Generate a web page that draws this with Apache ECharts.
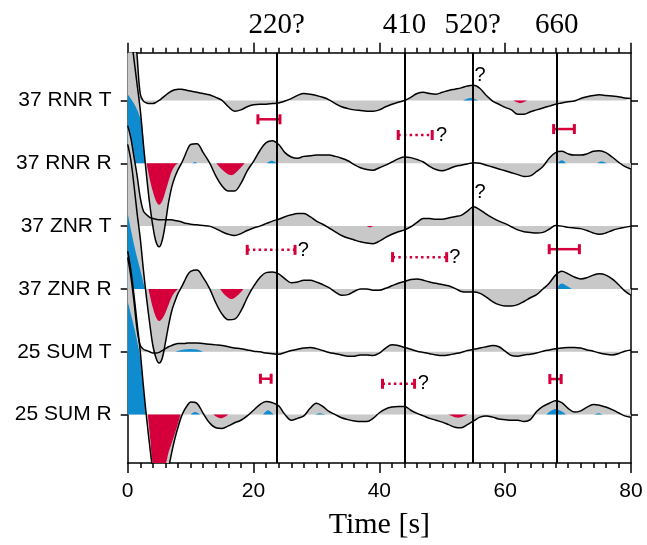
<!DOCTYPE html>
<html><head><meta charset="utf-8">
<script src="https://cdn.jsdelivr.net/npm/echarts@6/dist/echarts.min.js"></script>
<style>html,body{margin:0;padding:0;background:#fff}#c{width:647px;height:545px}</style>
</head><body><div id="c"></div>
<script>
const traceNames = ['37 RNR T','37 RNR R','37 ZNR T','37 ZNR R','25 SUM T','25 SUM R'];
const offsets = [5,4,3,2,1,0];
const times = [0,0.5,1,1.5,2,2.5,3,3.5,4,4.5,5,5.5,6,6.5,7,7.5,8,8.5,9,9.5,10,
 11,12,13,14,15,16,17,18,19,20,21,22,23,24,25,26,27,28,29,30,31,32,33,34,35,36,37,38,39,40,
 41,42,43,44,45,46,47,48,49,50,51,52,53,54,55,56,57,58,59,60,61,62,63,64,65,66,67,68,69,70,
 71,72,73,74,75,76,77,78,79,80];
const ampRNR_T = [2.2,1.9,1.35,0.7,0.1,-0.01,-0.04,-0.05,-0.05,-0.03,0,0.04,0.08,0.12,0.15,0.17,0.18,0.18,0.17,0.16,0.15,
 0.13,0.11,0.09,0.05,0.0,-0.1,-0.17,-0.15,-0.1,-0.07,
 -0.06,-0.06,-0.05,-0.04,-0.01,0.03,0.08,0.11,0.1,0.08,
 0.05,0.01,-0.05,-0.1,-0.13,-0.15,-0.16,-0.17,-0.17,-0.15,
 -0.1,-0.06,-0.03,0.0,0.05,0.11,0.13,0.11,0.1,0.13,
 0.16,0.18,0.2,0.23,0.24,0.19,0.08,-0.01,-0.06,-0.11,
 -0.15,-0.22,-0.22,-0.18,-0.15,-0.12,-0.09,-0.06,-0.04,-0.02,
 -0.01,0.03,0.06,0.08,0.09,0.08,0.07,0.06,0.04,0.03];
const ampRNR_R = [2.3,2.05,1.65,1.25,0.85,0.3,-0.2,-0.65,-1.0,-1.25,-1.33,-1.22,-0.95,-0.62,-0.38,-0.22,-0.1,-0.01,0.1,0.22,0.3,
 0.31,0.17,0.01,-0.2,-0.36,-0.44,-0.44,-0.32,-0.12,0.03,
 0.2,0.33,0.36,0.3,0.17,0.1,0.08,0.11,0.12,0.13,
 0.13,0.13,0.11,0.08,0.04,-0.02,-0.07,-0.1,-0.11,-0.07,
 -0.03,0.02,0.07,0.1,0.09,0.06,0.02,-0.05,-0.1,-0.12,
 -0.09,-0.05,-0.03,-0.01,0.01,0.0,-0.03,-0.06,-0.09,-0.12,
 -0.15,-0.18,-0.21,-0.2,-0.13,-0.05,0.08,0.17,0.19,0.15,
 0.13,0.13,0.15,0.19,0.2,0.17,0.1,0.02,-0.05,-0.09];
const ampZNR_T = [1.6,1.4,1.1,0.8,0.45,0.24,0.18,0.14,0.12,0.11,0.1,0.1,0.1,0.1,0.1,0.09,0.08,0.07,0.05,0.04,0.03,
 0.02,0.01,0.0,-0.04,-0.09,-0.13,-0.15,-0.12,-0.07,-0.03,
 0.0,0.04,0.08,0.11,0.15,0.18,0.2,0.2,0.15,0.08,
 0.03,-0.03,-0.09,-0.15,-0.19,-0.22,-0.25,-0.27,-0.28,-0.24,
 -0.18,-0.13,-0.09,-0.06,-0.01,0.06,0.12,0.12,0.11,0.11,
 0.13,0.15,0.17,0.24,0.31,0.26,0.19,0.13,0.08,0.04,
 -0.01,-0.06,-0.09,-0.1,-0.11,-0.1,-0.05,0.01,0.0,-0.02,
 -0.03,-0.04,-0.07,-0.11,-0.13,-0.11,-0.07,-0.04,-0.02,0.0];
const ampZNR_R = [2.3,2.05,1.65,1.2,0.8,0.3,-0.15,-0.55,-0.9,-1.1,-1.18,-1.1,-0.85,-0.58,-0.35,-0.2,-0.07,0.02,0.12,0.22,0.28,
 0.3,0.18,0.01,-0.22,-0.4,-0.49,-0.48,-0.35,-0.14,0.04,
 0.18,0.26,0.27,0.24,0.16,0.1,0.11,0.14,0.14,0.11,
 0.07,0.02,-0.05,-0.1,-0.09,-0.04,0.0,0.0,-0.02,-0.02,
 0.01,0.05,0.09,0.12,0.15,0.16,0.14,0.11,0.09,0.07,
 0.05,0.01,-0.04,-0.05,-0.05,-0.07,-0.13,-0.2,-0.25,-0.27,
 -0.27,-0.25,-0.2,-0.14,-0.09,0.0,0.09,0.22,0.28,0.24,
 0.19,0.16,0.18,0.22,0.24,0.22,0.16,0.07,-0.03,-0.1];
const ampSUM_T = [1.5,1.2,0.8,0.35,0.1,0.04,0.02,0.0,-0.02,-0.02,-0.01,0.02,0.05,0.08,0.1,0.12,0.13,0.13,0.13,0.14,0.14,
 0.14,0.13,0.12,0.11,0.1,0.08,0.06,0.05,0.03,0.01,
 0.0,-0.02,-0.03,-0.04,-0.01,0.02,0.04,0.06,0.07,0.05,
 0.02,-0.01,-0.03,-0.05,-0.07,-0.07,-0.05,-0.05,-0.06,-0.02,
 0.06,0.11,0.1,0.07,0.04,0.01,-0.01,-0.03,-0.05,-0.06,
 -0.05,-0.03,-0.01,0.02,0.04,0.06,0.08,0.1,0.08,0.01,
 -0.06,-0.07,-0.05,-0.04,-0.02,0.01,0.03,0.05,0.06,0.07,
 0.07,0.06,0.03,0.01,-0.02,-0.04,-0.05,-0.03,0.01,0.03];
const ampSUM_R = [2.6,2.3,1.9,1.45,1.0,0.45,-0.05,-0.5,-0.9,-1.2,-1.35,-1.3,-1.1,-0.85,-0.6,-0.38,-0.2,-0.04,0.07,0.15,0.2,
 0.18,0.02,-0.13,-0.21,-0.22,-0.18,-0.13,-0.09,-0.02,0.07,
 0.16,0.21,0.19,0.14,0.0,-0.09,-0.06,-0.02,0.1,0.18,
 0.13,0.05,0.0,-0.05,-0.08,-0.1,-0.11,-0.11,-0.06,0.03,
 0.09,0.12,0.13,0.13,0.07,0.02,-0.02,-0.06,-0.09,-0.12,
 -0.16,-0.2,-0.21,-0.16,-0.1,-0.04,-0.02,-0.04,-0.07,-0.08,
 -0.09,-0.09,-0.11,-0.08,0.05,0.13,0.18,0.22,0.19,0.1,
 0.04,0.06,0.12,0.16,0.15,0.12,0.08,0.03,-0.02,-0.04];
const traces = [ampRNR_T, ampRNR_R, ampZNR_T, ampZNR_R, ampSUM_T, ampSUM_R];

// significant (coloured) parts of each trace: [traceIndex, [[t, amp], ...]]
const bluePatches = [
 [0, [[53.3,0],[54.5,0.04],[55.7,0]]],
 [1, [[0,1.1],[1,0.95],[2,0.72],[2.4,0.5],[2.6,0.22],[2.75,0]]],
 [1, [[10.3,0],[10.7,0.02],[11,0]]],
 [1, [[22.1,0],[22.9,0.04],[23.7,0]]],
 [1, [[68.3,0],[69,0.05],[69.7,0]]],
 [1, [[74.6,0],[75.3,0.03],[76.2,0]]],
 [3, [[0,1.2],[0.6,0.9],[1.2,0.62],[2,0.3],[2.5,0.1],[2.8,0]]],
 [3, [[68.1,0],[69,0.085],[69.6,0.06],[70.6,0]]],
 [4, [[7.5,0],[9,0.035],[10,0.045],[11,0.035],[12,0]]],
 [5, [[0,1.8],[1,1.4],[2,0.9],[2.6,0.3],[2.9,0]]],
 [5, [[10,0],[10.7,0.04],[11.5,0]]],
 [5, [[21.5,0],[22.3,0.07],[23.2,0]]],
 [5, [[29.8,0],[30.5,0.02],[31.4,0]]],
 [5, [[66.5,0],[68,0.09],[69.7,0]]],
 [5, [[74.2,0],[74.8,0.02],[75.5,0]]]
];
const redPatches = [
 [0, [[61.3,0],[62.4,-0.04],[63.5,0]]],
 [1, [[3,0],[3.5,-0.25],[4,-0.45],[4.5,-0.6],[5,-0.66],[5.5,-0.6],[6,-0.45],[6.5,-0.28],[7,-0.13],[7.5,-0.04],[8,0]]],
 [1, [[14.1,0],[15,-0.1],[16,-0.18],[16.5,-0.19],[17.5,-0.12],[18.6,0]]],
 [2, [[38,0],[38.5,-0.02],[39,0]]],
 [3, [[3.3,0],[4,-0.3],[4.5,-0.45],[5,-0.51],[5.5,-0.47],[6,-0.38],[6.5,-0.25],[7,-0.13],[7.5,-0.05],[8,0]]],
 [3, [[14.7,0],[15.5,-0.1],[16.5,-0.16],[17.5,-0.1],[18.4,0]]],
 [5, [[3.2,0],[3.6,-0.4],[4,-0.78],[5,-1.0],[6,-0.8],[6.5,-0.6],[7,-0.45],[7.5,-0.3],[8,-0.14],[8.4,0]]],
 [5, [[13.6,0],[14.8,-0.06],[16,0]]],
 [5, [[51,0],[52.5,-0.05],[54,0]]]
];

// discontinuity markers
const vlineTimes = [23.7, 44.0, 54.85, 68.2];
const vlineLabels = ['220?', '410', '520?', '660'];

// time-window bars: start, end, level, dotted
const barStart = [20.7, 43.0, 67.7, 19.0, 42.1, 67.0, 21.1, 40.5, 67.1];
const barEnd   = [24.2, 48.4, 71.0, 26.6, 50.7, 71.8, 22.8, 45.6, 68.9];
const barLevel = [4.70, 4.45, 4.545, 2.622, 2.506, 2.633, 0.571, 0.491, 0.566];
const barDotted = [0, 1, 0, 1, 1, 0, 0, 1, 0];

// question marks
const qTime  = [56.0, 49.9, 56.0, 27.9, 52.0, 47.0];
const qLevel = [5.39, 4.44, 3.53, 2.61, 2.505, 0.49];

const GRAY = '#c8c8c8', BLUE = '#0e8ccf', RED = '#d5003b';
const SANS = '"Liberation Sans", Arial, sans-serif';
const SERIF = '"Liberation Serif", "DejaVu Serif", serif';

const series = [];
for (let i = 0; i < traces.length; i++) {
  const off = offsets[i];
  const data = times.map((t, k) => [t, off + traces[i][k]]);
  series.push({type:'line', data, smooth:0.35, showSymbol:false, clip:true, silent:true, animation:false,
    lineStyle:{width:0, opacity:0}, areaStyle:{color:GRAY, opacity:1, origin:off}});
  bluePatches.filter(p => p[0] === i).forEach(p => series.push({type:'line', data:p[1].map(q => [q[0], off + q[1]]),
    smooth:0.35, showSymbol:false, clip:true, silent:true, animation:false,
    lineStyle:{width:0, opacity:0}, areaStyle:{color:BLUE, opacity:1, origin:off}}));
  redPatches.filter(p => p[0] === i).forEach(p => series.push({type:'line', data:p[1].map(q => [q[0], off + q[1]]),
    smooth:0.35, showSymbol:false, clip:true, silent:true, animation:false,
    lineStyle:{width:0, opacity:0}, areaStyle:{color:RED, opacity:1, origin:off}}));
  series.push({type:'line', data, smooth:0.35, showSymbol:false, clip:true, silent:true, animation:false,
    lineStyle:{color:'#000', width:1.5}});
}
series.push({type:'line', data:[], silent:true, animation:false,
  markLine:{symbol:['none','none'], silent:true, animation:false,
    lineStyle:{color:'#000', width:2, type:'solid'},
    label:{show:true, position:'end', distance:13, color:'#000', fontFamily:SERIF, fontSize:29},
    data: vlineTimes.map((t, k) => ({xAxis:t, label:{formatter:vlineLabels[k]}}))}});
series.push({type:'custom', silent:true, animation:false, clip:false,
  data: barStart.map((s, k) => [s, barEnd[k], barLevel[k], barDotted[k]]),
  renderItem:(params, api) => {
    const a = api.coord([api.value(0), api.value(2)]);
    const b = api.coord([api.value(1), api.value(2)]);
    const dotted = api.value(3) === 1;
    return {type:'group', children:[
      {type:'line', shape:{x1:a[0], y1:a[1], x2:b[0], y2:b[1]}, style:{stroke:RED, lineWidth:2.5, lineDash: dotted ? [2.5,3.2] : null}},
      {type:'line', shape:{x1:a[0], y1:a[1]-5, x2:a[0], y2:a[1]+5}, style:{stroke:RED, lineWidth:3}},
      {type:'line', shape:{x1:b[0], y1:b[1]-5, x2:b[0], y2:b[1]+5}, style:{stroke:RED, lineWidth:3}}
    ]};
  }});
series.push({type:'custom', silent:true, animation:false,
  data: qTime.map((t, k) => [t, qLevel[k]]),
  renderItem:(params, api) => {
    const c = api.coord([api.value(0), api.value(1)]);
    return {type:'text', x:c[0], y:c[1], style:{text:'?', font:'20px ' + SANS, fill:'#000', align:'center', verticalAlign:'middle'}};
  }});

const axisLineStyle = {color:'#000', width:1.5};
const chart = echarts.init(document.getElementById('c'), null, {renderer:'canvas'});
chart.setOption({
  animation:false,
  backgroundColor:'#fff',
  grid:{left:127.7, right:16, top:52.7, bottom:81.7, containLabel:false},
  xAxis:[
    {type:'value', min:0, max:80, interval:20, position:'bottom',
     axisLine:{show:true, onZero:false, lineStyle:axisLineStyle},
     axisTick:{show:true, length:10, inside:false, lineStyle:axisLineStyle},
     minorTick:{show:true, splitNumber:10, length:5, lineStyle:axisLineStyle},
     splitLine:{show:false},
     axisLabel:{show:true, margin:18, color:'#000', fontFamily:SANS, fontSize:21},
     name:'Time [s]', nameLocation:'middle', nameGap:47,
     nameTextStyle:{color:'#000', fontFamily:SERIF, fontSize:30}},
    {type:'value', min:0, max:80, interval:20, position:'top',
     axisLine:{show:true, onZero:false, lineStyle:axisLineStyle},
     axisTick:{show:true, length:10, inside:false, lineStyle:axisLineStyle},
     minorTick:{show:true, splitNumber:10, length:5, lineStyle:axisLineStyle},
     splitLine:{show:false}, axisLabel:{show:false}}
  ],
  yAxis:[
    {type:'value', min:-0.77, max:5.76, position:'left',
     axisLine:{show:true, onZero:false, lineStyle:axisLineStyle},
     axisTick:{show:true, length:7, inside:false, customValues:offsets, lineStyle:axisLineStyle},
     splitLine:{show:false},
     axisLabel:{show:true, customValues:offsets, margin:16, color:'#000', fontFamily:SANS, fontSize:21,
       formatter:(v) => { const k = offsets.indexOf(Math.round(v)); return k >= 0 ? traceNames[k] : ''; }}},
    {type:'value', min:-0.77, max:5.76, position:'right',
     axisLine:{show:true, onZero:false, lineStyle:axisLineStyle},
     axisTick:{show:true, length:7, inside:false, customValues:offsets, lineStyle:axisLineStyle},
     splitLine:{show:false}, axisLabel:{show:false}}
  ],
  series
});
</script></body></html>
